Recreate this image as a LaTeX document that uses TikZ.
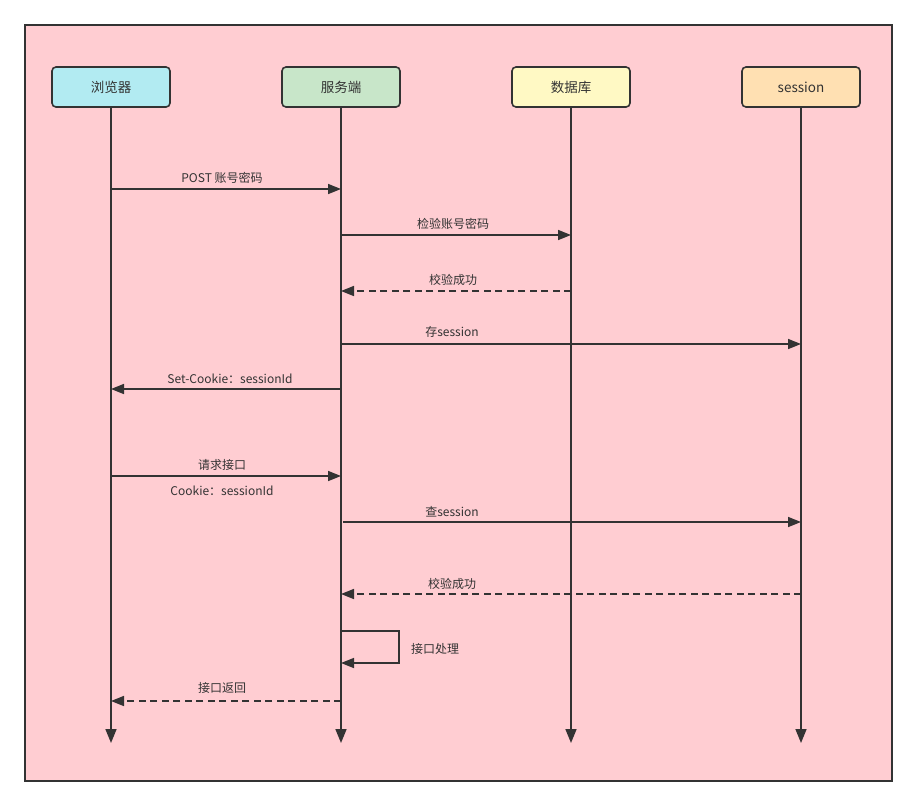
\documentclass[tikz,border=0pt]{standalone}
\usepackage{fontspec}
\setmainfont{Noto Sans CJK SC}
\usetikzlibrary{arrows.meta}
\definecolor{ink}{HTML}{333333}
\definecolor{bgpink}{HTML}{FFCDD2}
\definecolor{cyanbox}{HTML}{B2EBF2}
\definecolor{greenbox}{HTML}{C8E6C9}
\definecolor{yellowbox}{HTML}{FFF9C4}
\definecolor{orangebox}{HTML}{FFE0B2}
\tikzset{
  actor/.style={draw=ink, line width=1.6pt, rounded corners=4pt, minimum width=118pt,
    minimum height=40pt, inner sep=0pt, font=\fontsize{13.5}{15}\selectfont, text=ink},
  lifeline/.style={draw=ink, line width=1.6pt, -{Triangle[length=14pt,width=11pt]}},
  msg/.style={draw=ink, line width=1.6pt, -{Triangle[length=13pt,width=10pt]}},
  reply/.style={msg, dash pattern=on 7pt off 4.5pt},
  lbl/.style={font=\fontsize{12}{14}\selectfont, text=ink, inner sep=0pt},
}
\begin{document}
\begin{tikzpicture}[x=1pt, y=-1pt]
  \useasboundingbox (0,0) rectangle (917,807);
  % frame
  \draw[ink, line width=1.6pt, fill=bgpink] (25,25) rectangle (892,781);

  % participants
  \node[actor, fill=cyanbox]   (browser) at (111,87) {\raisebox{-1pt}{浏览器}};
  \node[actor, fill=greenbox]  (server)  at (341,87) {\raisebox{-1pt}{服务端}};
  \node[actor, fill=yellowbox] (db)      at (571,87) {\raisebox{-1pt}{数据库}};
  \node[actor, fill=orangebox] (sess)    at (801,87) {\raisebox{-1pt}{session}};

  % lifeline ends
  \coordinate (browserEnd) at (111,743);
  \coordinate (serverEnd)  at (341,743);
  \coordinate (dbEnd)      at (571,743);
  \coordinate (sessEnd)    at (801,743);
  \draw[lifeline] (browser) -- (browserEnd);
  \draw[lifeline] (server)  -- (serverEnd);
  \draw[lifeline] (db)      -- (dbEnd);
  \draw[lifeline] (sess)    -- (sessEnd);

  % login
  \draw[msg] (browser |- 0,189) -- (server |- 0,189);
  \node[lbl] (m1) at (222,178) {POST 账号密码};

  \draw[msg] (server |- 0,235) -- (db |- 0,235);
  \node[lbl] (m2) at (453,224) {检验账号密码};

  \draw[reply] (db |- 0,291) -- (server |- 0,291);
  \node[lbl] (m3) at (453,280) {校验成功};

  \draw[msg] (server |- 0,344) -- (sess |- 0,344);
  \node[lbl] (m4) at (452,332) {存session};

  \draw[msg] (server |- 0,389) -- (browser |- 0,389);
  \node[lbl] (m5) at (230,379) {Set-Cookie：sessionId};

  % authenticated request
  \draw[msg] (browser |- 0,476) -- (server |- 0,476);
  \node[lbl] (m6) at (222,465) {请求接口};
  \node[lbl] (m6b) at (222,491) {Cookie：sessionId};

  \draw[msg] ([xshift=2pt]server |- 0,522) -- (sess |- 0,522);
  \node[lbl] (m7) at (452,512) {查session};

  \draw[reply] (sess |- 0,594) -- (server |- 0,594);
  \node[lbl] (m8) at (452,584) {校验成功};

  % self call
  \coordinate (loopA) at (399,631);
  \coordinate (loopB) at (399,663);
  \draw[msg] (server |- loopA) -- (loopA) -- (loopB) -- (server |- loopB);
  \node[lbl, anchor=west] (m9) at (411,649) {接口处理};

  \draw[reply] (server |- 0,701) -- (browser |- 0,701);
  \node[lbl] (m10) at (222,688) {接口返回};
\end{tikzpicture}
\end{document}
